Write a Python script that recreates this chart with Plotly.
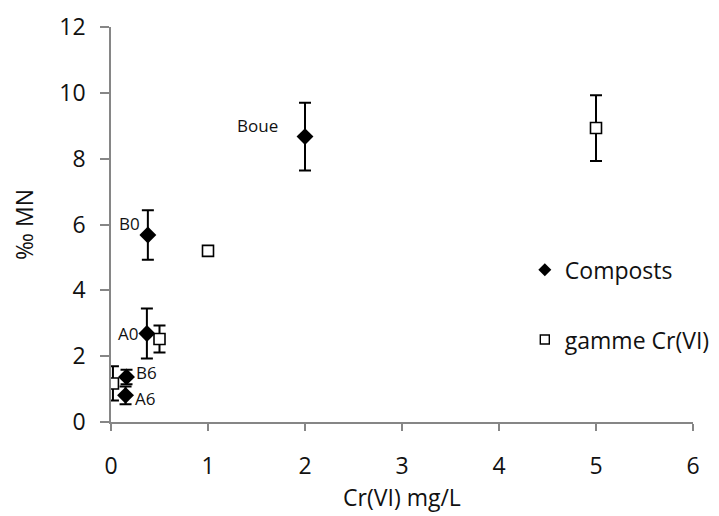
import plotly.graph_objects as go

# Composts series
compost_labels = ["Boue", "B0", "A0", "B6", "A6"]
compost_x = [2.0, 0.38, 0.37, 0.16, 0.15]
compost_y = [8.67, 5.68, 2.69, 1.37, 0.81]
compost_err = [1.03, 0.75, 0.76, 0.22, 0.27]

# gamme Cr(VI) series
gamme_x = [0.02, 0.5, 1.0, 5.0]
gamme_y = [1.17, 2.52, 5.20, 8.93]
gamme_err = [0.52, 0.41, 0.12, 1.0]

x_ticks = [0, 1, 2, 3, 4, 5, 6]
y_ticks = [0, 2, 4, 6, 8, 10, 12]

FONT = "Open Sans"
TXT = "#111111"
AX = "#868686"
FS = 23

fig = go.Figure()

fig.add_trace(go.Scatter(
    x=gamme_x, y=gamme_y, mode="markers", name="gamme Cr(VI)",
    showlegend=False,
    marker=dict(symbol="square", size=11, color="white",
                line=dict(color="black", width=1.6)),
    error_y=dict(type="data", array=gamme_err, visible=True,
                 color="black", thickness=2, width=6),
))
fig.add_trace(go.Scatter(
    x=compost_x, y=compost_y, mode="markers", name="Composts",
    showlegend=False,
    marker=dict(symbol="diamond", size=13, color="black"),
    error_y=dict(type="data", array=compost_err, visible=True,
                 color="black", thickness=2, width=6),
))

# legend-only entries
fig.add_trace(go.Scatter(
    x=[None], y=[None], mode="markers", name="Composts", legendgroup="a",
    marker=dict(symbol="diamond", size=10, color="black"),
))
fig.add_trace(go.Scatter(
    x=[None], y=[None], mode="markers", name="gamme Cr(VI)", legendgroup="b",
    marker=dict(symbol="square", size=9, color="white",
                line=dict(color="black", width=1.4)),
))

# data labels: (xanchor, xshift, yshift) style per label
label_style = {
    "Boue": ("right", -25, 11),
    "B0": ("right", -6, 12),
    "A0": ("right", -7, 0),
    "B6": ("left", 7, 4),
    "A6": ("left", 7, -3),
}
for lab, xv, yv in zip(compost_labels, compost_x, compost_y):
    xa, xs, ys = label_style[lab]
    fig.add_annotation(x=xv, y=yv, xref="x", yref="y", text=lab,
                       showarrow=False, xanchor=xa, xshift=xs, yshift=ys,
                       font=dict(family=FONT, size=17, color=TXT))

fig.update_layout(
    width=719, height=516,
    margin=dict(l=103, r=28, t=19, b=102),
    paper_bgcolor="white", plot_bgcolor="white",
    font=dict(family=FONT, size=FS, color=TXT),
    legend=dict(x=0.711, y=0.44, xanchor="left", yanchor="top",
                traceorder="grouped", tracegroupgap=37,
                font=dict(family=FONT, size=FS, color=TXT),
                bgcolor="rgba(0,0,0,0)"),
    xaxis=dict(range=[0, 6], tickvals=x_ticks, showgrid=False, zeroline=False,
               showline=True, linecolor=AX, linewidth=1.5,
               ticks="outside", tickcolor=AX, ticklen=7, tickwidth=1.5,
               tickfont=dict(family=FONT, size=FS, color=TXT),
               title=dict(text="Cr(VI) mg/L", standoff=0,
                          font=dict(family=FONT, size=FS, color=TXT)),
               ticklabelstandoff=16, automargin=False),
    yaxis=dict(range=[0, 12], tickvals=y_ticks, showgrid=False, zeroline=False,
               showline=True, linecolor=AX, linewidth=1.5,
               ticks="outside", tickcolor=AX, ticklen=9, tickwidth=1.5,
               tickfont=dict(family=FONT, size=FS, color=TXT),
               title=dict(text="‰ MN", standoff=20,
                          font=dict(family=FONT, size=FS, color=TXT)),
               ticklabelstandoff=10, automargin=False),
)

fig.write_html("out.html")
